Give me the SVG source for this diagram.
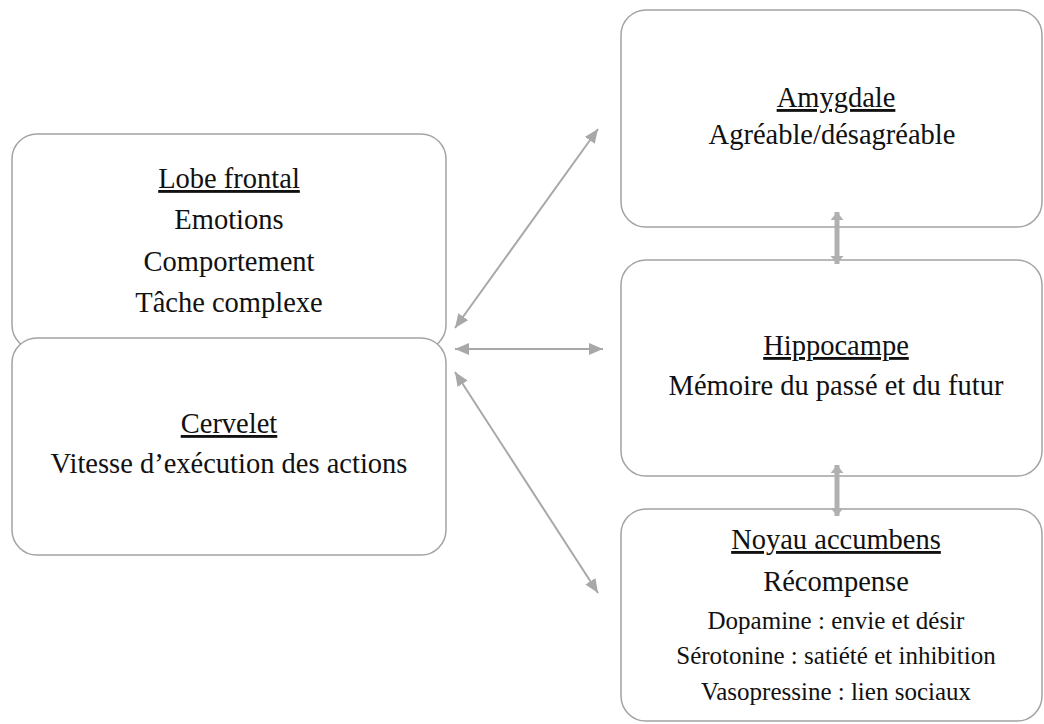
<svg xmlns="http://www.w3.org/2000/svg" width="1044" height="724" viewBox="0 0 1044 724">
<style>
.box{fill:#ffffff;stroke:#a3a3a3;stroke-width:1.5}
.t{font-size:28.5px;fill:#111;text-anchor:middle}
.s{font-size:25px}
.u{text-decoration:underline}
.thin{stroke:#a8a8a8;stroke-width:2;fill:none}
.thick{stroke:#b0b0b0;stroke-width:5;fill:none}
</style>
<defs>
<marker id="ah" viewBox="0 0 14 12" refX="14" refY="6" markerWidth="14" markerHeight="12" markerUnits="userSpaceOnUse" orient="auto-start-reverse">
<path d="M0,0 L14,6 L0,12 Z" fill="#a8a8a8"/>
</marker>
<marker id="ah2" viewBox="0 0 8 13" refX="8" refY="6.5" markerWidth="8" markerHeight="13" markerUnits="userSpaceOnUse" orient="auto-start-reverse">
<path d="M0,0 L8,6.5 L0,13 Z" fill="#b0b0b0"/>
</marker>
</defs>
<rect width="1044" height="724" fill="#ffffff"/>
<g font-family="'Liberation Serif', Tinos, 'Times New Roman', 'DejaVu Serif', serif">
<g id="lobe-frontal">
<rect class="box" x="12" y="134" width="434" height="216" rx="25"/>
<text class="t u" x="229" y="188">Lobe frontal</text>
<text class="t" x="229" y="229">Emotions</text>
<text class="t" x="229" y="271">Comportement</text>
<text class="t" x="229" y="312">Tâche complexe</text>
</g>
<g id="cervelet">
<rect class="box" x="12" y="338" width="434" height="217" rx="25"/>
<text class="t u" x="229" y="433">Cervelet</text>
<text class="t" x="229" y="473">Vitesse d’exécution des actions</text>
</g>
<g id="amygdale">
<rect class="box" x="621" y="10" width="421" height="217" rx="25"/>
<text class="t u" x="836" y="107">Amygdale</text>
<text class="t" x="832" y="144">Agréable/désagréable</text>
</g>
<g id="hippocampe">
<rect class="box" x="621" y="260" width="421" height="216" rx="25"/>
<text class="t u" x="836" y="355">Hippocampe</text>
<text class="t" x="836" y="395">Mémoire du passé et du futur</text>
</g>
<g id="noyau-accumbens">
<rect class="box" x="621" y="509" width="421" height="212" rx="25"/>
<text class="t u" x="836" y="549">Noyau accumbens</text>
<text class="t" x="836" y="591">Récompense</text>
<text class="t s" x="836" y="629">Dopamine : envie et désir</text>
<text class="t s" x="836" y="664">Sérotonine : satiété et inhibition</text>
<text class="t s" x="836" y="700">Vasopressine : lien sociaux</text>
</g>
</g>
<g id="connectors">
<line class="thin" x1="455" y1="328" x2="598" y2="129" marker-start="url(#ah)" marker-end="url(#ah)"/>
<line class="thin" x1="455" y1="349" x2="603" y2="349" marker-start="url(#ah)" marker-end="url(#ah)"/>
<line class="thin" x1="455" y1="372" x2="598" y2="593" marker-start="url(#ah)" marker-end="url(#ah)"/>
<line class="thick" x1="837" y1="212" x2="837" y2="264" marker-start="url(#ah2)" marker-end="url(#ah2)"/>
<line class="thick" x1="837" y1="465" x2="837" y2="516" marker-start="url(#ah2)" marker-end="url(#ah2)"/>
</g>
</svg>
